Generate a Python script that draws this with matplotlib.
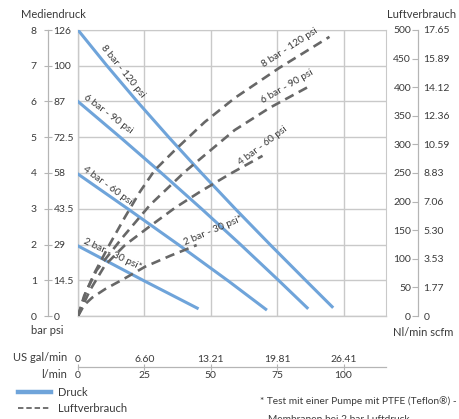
import matplotlib.pyplot as plt
from matplotlib.lines import Line2D

plt.rcParams['font.family'] = ['Lato', 'DejaVu Sans']

# Druck (bar) ueber Foerdermenge (l/min)
flow_8 = [0, 10.9, 22.3, 34.2, 46.5, 59.2, 72.3, 85.7, 95.7]
druck_8 = [8.0, 7.0, 6.0, 5.0, 4.0, 3.0, 2.0, 1.0, 0.26]
flow_6 = [0, 15.9, 31.4, 46.5, 61.2, 75.5, 86.3]
druck_6 = [6.0, 5.0, 4.0, 3.0, 2.0, 1.0, 0.23]
flow_4 = [0, 19.3, 38.3, 56.8, 70.7]
druck_4 = [3.97, 2.97, 1.97, 0.97, 0.19]
flow_2 = [0, 25.0, 44.9]
druck_2 = [1.96, 0.98, 0.22]

# Luftverbrauch (Nl/min) ueber Foerdermenge (l/min)
lflow_8 = [0, 2.3, 6.4, 12.0, 17.7, 23.3, 28.9, 36.5, 47.7, 59.0, 75.9, 94.7]
luft_8 = [0, 35, 77, 126, 173, 217, 255, 290, 339, 381, 434, 488]
lflow_6 = [0, 3.0, 7.0, 16.9, 27.1, 40.2, 59.0, 72.2, 86.5]
luft_6 = [0, 42, 80, 138, 194, 252, 325, 364, 400]
lflow_4 = [0, 4.5, 10.2, 17.7, 27.1, 36.5, 45.9, 57.1, 69.5]
luft_4 = [0, 45, 89, 124, 157, 189, 217, 248, 280]
lflow_2 = [0, 2.3, 5.3, 10.2, 17.7, 25.2, 34.6, 44.7]
luft_2 = [0, 19, 32, 47, 66, 86, 105, 124]

lmin_ticks = [0, 25, 50, 75, 100]
gal_labels = ['0', '6.60', '13.21', '19.81', '26.41']
bar_ticks = [0, 1, 2, 3, 4, 5, 6, 7, 8]
psi_labels = ['0', '14.5', '29', '43.5', '58', '72.5', '87', '100', '126']
nl_ticks = [0, 50, 100, 150, 200, 250, 300, 350, 400, 450, 500]
scfm_labels = ['0', '1.77', '3.53', '5.30', '7.06', '8.83', '10.59', '12.36',
               '14.12', '15.89', '17.65']

blue = '#6fa4da'
gray = '#676767'
grid_c = '#c9c9c9'
axis_c = '#b5b5b5'
txt = '#3a3a3a'
fs = 8
tfs = 7.5

W, H = 460, 419
fig = plt.figure(figsize=(W / 100, H / 100), dpi=100)
ax = fig.add_axes([78 / W, 1 - 316 / H, 308 / W, 286 / H])
ax.set_xlim(0, 116)
ax.set_ylim(0, 8)
ax.set_xticks(lmin_ticks, [str(v) for v in lmin_ticks])
ax.set_yticks(bar_ticks, [str(v) for v in bar_ticks])
ax.grid(True, color=grid_c, lw=1)
ax.set_axisbelow(True)
ax.axhline(0, color=grid_c, lw=1, clip_on=False, zorder=0.5)
ax.axvline(0, color=grid_c, lw=1, clip_on=False, zorder=0.5)
ax.spines['top'].set_color(grid_c)
ax.spines['right'].set_color(grid_c)
ax.spines['left'].set_position(('outward', 21.6))
ax.spines['bottom'].set_position(('outward', 36.7))
ax.spines['left'].set_color(axis_c)
ax.spines['bottom'].set_color(axis_c)
ax.tick_params(axis='y', direction='inout', length=6, color=axis_c,
               labelcolor=txt, labelsize=tfs, pad=5)
ax.tick_params(axis='x', direction='inout', length=4, color=axis_c,
               labelcolor=txt, labelsize=tfs, pad=1)

psi = ax.secondary_yaxis(-30 / 308)
psi.set_alignment('right')
psi.set_yticks(bar_ticks, psi_labels)
psi.tick_params(length=0, labelcolor=txt, labelsize=tfs, pad=4)
psi.spines['right'].set_color(axis_c)

gal = ax.secondary_xaxis(-51 / 286)
gal.set_alignment('top')
gal.set_xticks(lmin_ticks, gal_labels)
gal.tick_params(length=0, labelcolor=txt, labelsize=tfs, pad=2)
gal.spines['top'].set_color(axis_c)

ax.plot(flow_8, druck_8, color=blue, lw=2.2, zorder=3)
ax.plot(flow_6, druck_6, color=blue, lw=2.2, zorder=3)
ax.plot(flow_4, druck_4, color=blue, lw=2.2, zorder=3)
ax.plot(flow_2, druck_2, color=blue, lw=2.2, zorder=3)

axr = ax.twinx()
axr.set_ylim(0, 500)
for s in axr.spines.values():
    s.set_visible(False)
axr.tick_params(right=False, labelright=False)

nl = axr.secondary_yaxis(340 / 308)
nl.set_alignment('left')
nl.set_yticks(nl_ticks, [str(v) for v in nl_ticks])
nl.tick_params(direction='out', length=4, color=axis_c, labelcolor=txt,
               labelsize=tfs, pad=1)
nl.spines['left'].set_color(axis_c)

scfm = axr.secondary_yaxis(340 / 308)
scfm.set_alignment('right')
scfm.set_yticks(nl_ticks, scfm_labels)
scfm.tick_params(length=0, labelcolor=txt, labelsize=tfs, pad=4)
scfm.spines['right'].set_color(axis_c)

dash = (0, (3.6, 2.2))
axr.plot(lflow_8, luft_8, color=gray, lw=1.9, ls=dash, zorder=3)
axr.plot(lflow_6, luft_6, color=gray, lw=1.9, ls=dash, zorder=3)
axr.plot(lflow_4, luft_4, color=gray, lw=1.9, ls=dash, zorder=3)
axr.plot(lflow_2, luft_2, color=gray, lw=1.9, ls=dash, zorder=3)

# Beschriftungen an den Kurven
lab = dict(fontsize=7.3, color=txt, ha='center', va='center',
           rotation_mode='anchor', zorder=4)
ax.text(16.9, 6.83, '8 bar - 120 psi', rotation=-51, **lab)
ax.text(11.3, 5.66, '6 bar - 90 psi', rotation=-37, **lab)
ax.text(10.9, 3.64, '4 bar - 60 psi', rotation=-36, **lab)
ax.text(13.0, 1.74, '2 bar - 30 psi*', rotation=-25, **lab)
ax.text(79.8, 7.52, '8 bar - 120 psi', rotation=33, **lab)
ax.text(78.6, 6.43, '6 bar - 90 psi', rotation=30, **lab)
ax.text(69.6, 4.75, '4 bar - 60 psi', rotation=37, **lab)
ax.text(50.9, 2.40, '2 bar - 30 psi*', rotation=23, **lab)


def ftext(x, y, s, size=fs, **kw):
    fig.text(x / W, 1 - y / H, s, fontsize=size, color=txt, va='center', **kw)


ftext(53, 14, 'Mediendruck', ha='center')
ftext(422, 14, 'Luftverbrauch', ha='center')
ftext(31, 331, 'bar psi', ha='left')
ftext(393, 332, 'Nl/min scfm', ha='left')
ftext(67, 357, 'US gal/min', ha='right')
ftext(67, 374, 'l/min', ha='right')
ftext(260, 401, '* Test mit einer Pumpe mit PTFE (Teflon®) -', size=7.3,
      ha='left')
ftext(268, 419, 'Membranen bei 2 bar Luftdruck', size=7.3, ha='left')

handles = [Line2D([], [], color=blue, lw=3.2),
           Line2D([], [], color=gray, lw=1.3, ls=(0, (3, 1.6)))]
fig.legend(handles, ['Druck', 'Luftverbrauch'], loc='upper left',
           bbox_to_anchor=(18 / W, 1 - 387 / H), frameon=False, fontsize=fs,
           handlelength=3.0, labelspacing=0.45, handletextpad=0.6,
           borderaxespad=0, borderpad=0, labelcolor=txt)

fig.savefig('out.png', dpi=100)
